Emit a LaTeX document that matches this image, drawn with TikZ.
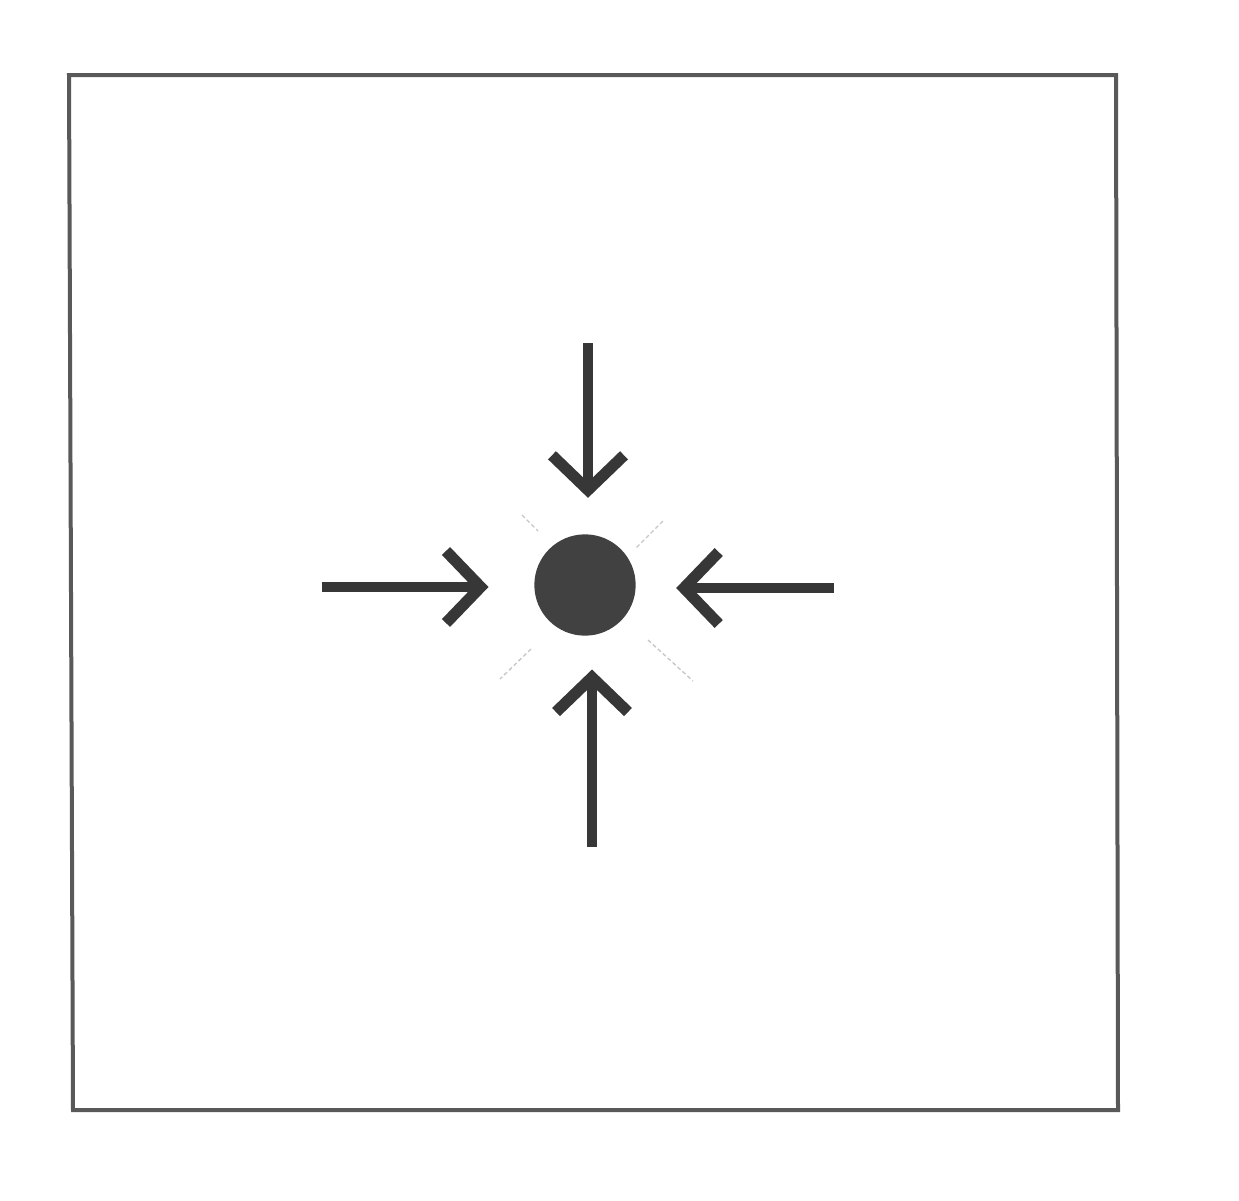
\documentclass[tikz,border=0pt]{standalone}
\usetikzlibrary{arrows.meta}

\tikzset{every picture/.style={line width=0.75pt}}
\definecolor{pencil}{RGB}{70,70,70}
\definecolor{lead}{RGB}{55,55,55}
\tikzset{
  frame/.style={draw=pencil!90, line width=3pt},
  core/.style={circle, fill=lead!95, inner sep=0pt, minimum size=76pt},
  push/.style={draw=lead, line width=7.5pt,
    -{Straight Barb[length=26pt,width=54pt,line width=8.5pt]}},
  hint/.style={draw=gray!45, line width=1pt, densely dashed}
}

\begin{document}
\begin{tikzpicture}[x=0.75pt,y=0.75pt,yscale=-1,xscale=1]
\useasboundingbox (0,0) rectangle (1239,1200);

%Shape: Rectangle [id:frame]
\draw [frame] (69,75) -- (1116,75) -- (1118,1110) -- (73,1110) -- cycle ;

%Shape: Circle [id:dot]
\node [core] (dot) at (585,585) {};

% tails of the four arrows
\coordinate (ntail) at (588,343);
\coordinate (wtail) at (322,587);
\coordinate (etail) at (834,588);
\coordinate (stail) at (592,847);

%Straight Lines [id:arrows]
\draw [push, shorten >=27pt] (ntail) -- (ntail |- dot.north);
\draw [push, shorten >=34pt] (wtail) -- (wtail -| dot.west);
\draw [push, shorten >=30pt] (etail) -- (etail -| dot.east);
\draw [push, shorten >=25pt] (stail) -- (stail |- dot.south);

%Straight Lines [id:hints]
\draw [hint] (522,515) -- (538,531) ;
\draw [hint] (663,521) -- (636,548) ;
\draw [hint] (531,649) -- (500,679) ;
\draw [hint] (648,640) -- (693,681) ;
\end{tikzpicture}
\end{document}
